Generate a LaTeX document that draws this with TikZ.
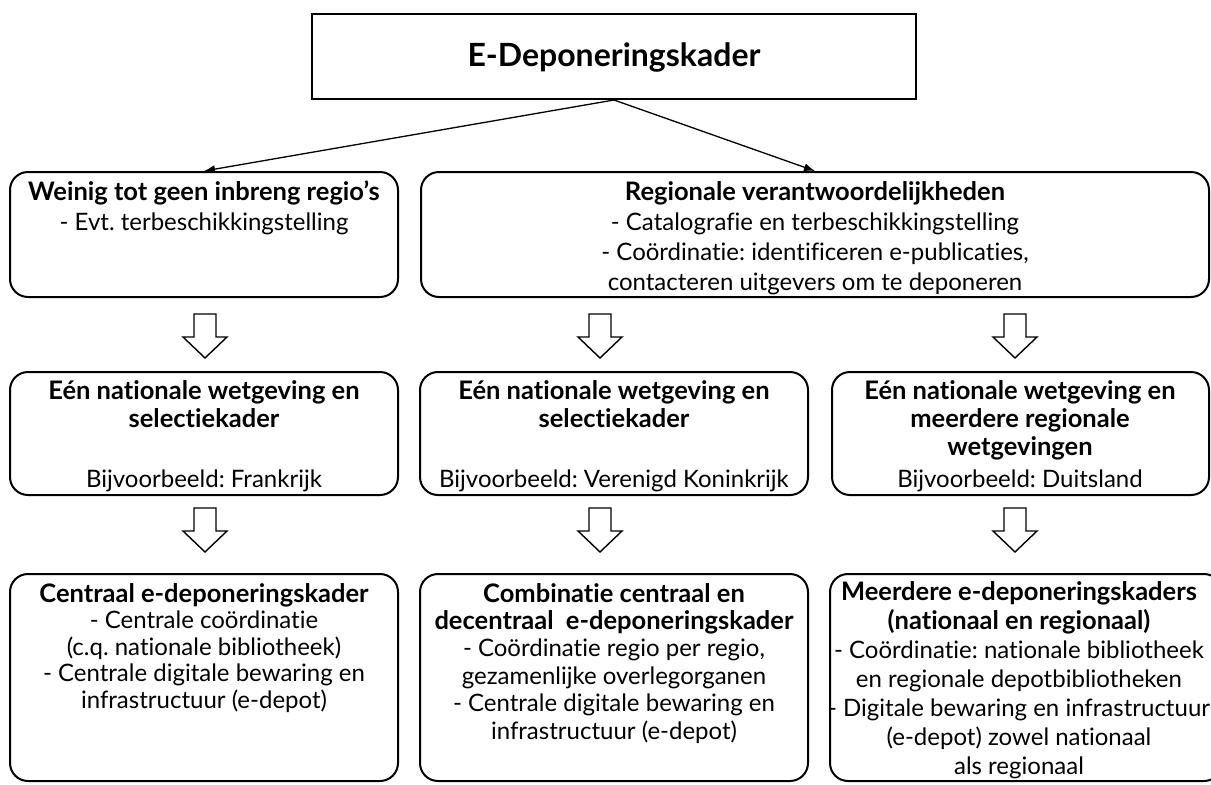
\documentclass[tikz,border=0pt]{standalone}
\usepackage{fontspec}
\setmainfont{Lato}[Ligatures={NoCommon,NoRare,NoDiscretionary,NoContextual}]
\usetikzlibrary{arrows.meta}
\frenchspacing
\newcommand\blkarr[3]{%
  \draw[line width=1.4pt, line join=miter]
    ({#1-11},{#2}) -- ({#1+11},{#2}) -- ({#1+11},{#3-21}) -- ({#1+22},{#3-21})
    -- ({#1},{#3}) -- ({#1-22},{#3-21}) -- ({#1-11},{#3-21}) -- cycle;}
\newcommand\bd[1]{{\fontsize{25.5}{28}\selectfont\bfseries #1}}
\begin{document}
\frenchspacing
\begin{tikzpicture}[x=1pt,y=-1pt,
  box/.style={draw, line width=2pt, rounded corners=18pt, inner sep=0pt},
  txt/.style={align=center, anchor=base, inner sep=0pt},
  conn/.style={line width=1.3pt, -{Latex[length=11pt,width=8pt]}}]
\useasboundingbox (0,0) rectangle (1211,785);
% title
\node[draw, line width=2pt, minimum width=604pt, minimum height=85pt, inner sep=0pt] (title) at (614,56.5) {};
\node[txt, font=\fontsize{32}{36}\selectfont\bfseries] (titletext) at (614,66) {E-Deponeringskader};
% row 1
\node[box, minimum width=388pt, minimum height=125pt] (L1) at (204,234.5) {};
\node[box, minimum width=788pt, minimum height=125pt] (R1) at (815,234.5) {};
\node[txt, font=\fontsize{24}{30}\selectfont] (L1t) at (204,230)
  {\bd{Weinig tot geen inbreng regio’s}\\- Evt. terbeschikkingstelling};
\node[txt, font=\fontsize{24}{30}\selectfont] (R1t) at (815,290)
  {\bd{Regionale verantwoordelijkheden}\\- Catalografie en terbeschikkingstelling\\- Coördinatie: identificeren e-publicaties,\\contacteren uitgevers om te deponeren};
\draw[conn] (title.south) -- (L1.north);
\draw[conn] (title.south) -- (R1.north);
% block arrows
\blkarr{205}{314}{358}
\blkarr{600}{314}{358}
\blkarr{1015}{314}{358}
\blkarr{205}{508}{552}
\blkarr{600}{508}{552}
\blkarr{1015}{508}{552}
% row 2
\node[box, minimum width=388pt, minimum height=123pt] (L2) at (204,433.5) {};
\node[box, minimum width=388pt, minimum height=123pt] (M2) at (614,433.5) {};
\node[box, minimum width=377pt, minimum height=123pt] (R2) at (1020.5,433.5) {};
\node[txt, font=\fontsize{25.5}{28}\selectfont\bfseries] (L2t) at (204,427) {Eén nationale wetgeving en\\selectiekader};
\node[txt, font=\fontsize{25.5}{28}\selectfont\bfseries] (M2t) at (614,427) {Eén nationale wetgeving en\\selectiekader};
\node[txt, font=\fontsize{25.5}{28}\selectfont\bfseries] (R2t) at (1020,455) {Eén nationale wetgeving en\\meerdere regionale\\wetgevingen};
\node[txt, font=\fontsize{24}{28}\selectfont] (L2b) at (204,487) {Bijvoorbeeld: Frankrijk};
\node[txt, font=\fontsize{24}{28}\selectfont] (M2b) at (614,487) {Bijvoorbeeld: Verenigd Koninkrijk};
\node[txt, font=\fontsize{24}{28}\selectfont] (R2b) at (1020,487) {Bijvoorbeeld: Duitsland};
% row 3
\node[box, minimum width=388pt, minimum height=207pt] (L3) at (204,677.5) {};
\node[box, minimum width=388pt, minimum height=207pt] (M3) at (614,677.5) {};
\node[box, minimum width=392pt, minimum height=207pt] (R3) at (1026,677.5) {};
\node[txt, font=\fontsize{24}{26.5}\selectfont] (L3t) at (204,708)
  {\bd{Centraal e-deponeringskader}\\- Centrale coördinatie\\(c.q. nationale bibliotheek)\\- Centrale digitale bewaring en\\infrastructuur (e-depot)};
\node[txt, font=\fontsize{24}{27.4}\selectfont] (M3t) at (614,739)
  {\bd{Combinatie centraal en}\\\bd{decentraal\ \ e-deponeringskader}\\- Coördinatie regio per regio,\\gezamenlijke overlegorganen\\- Centrale digitale bewaring en\\infrastructuur (e-depot)};
\node[txt, font=\fontsize{24}{29}\selectfont] (R3t) at (1019,774)
  {\bd{Meerdere e-deponeringskaders}\\\bd{(nationaal en regionaal)}\\- Coördinatie: nationale bibliotheek\\en regionale depotbibliotheken\\- Digitale bewaring en infrastructuur\\(e-depot) zowel nationaal\\als regionaal};
\end{tikzpicture}
\end{document}
